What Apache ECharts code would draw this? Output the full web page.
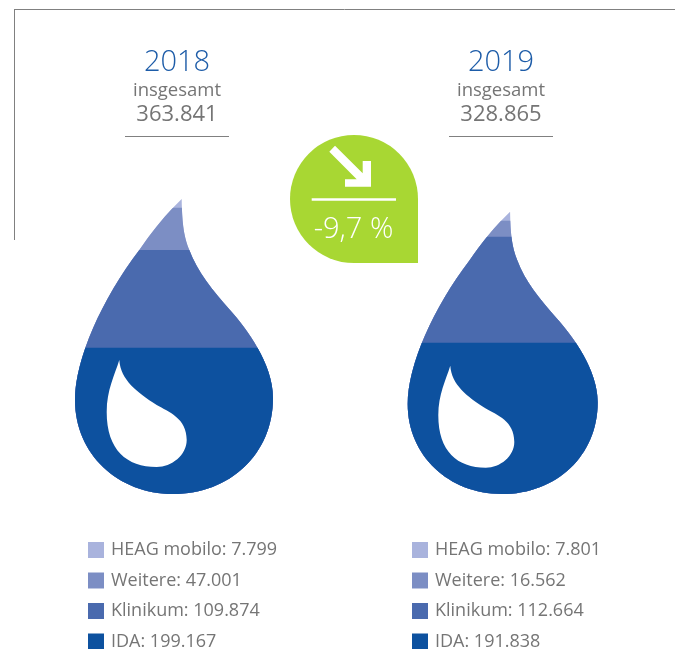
<!DOCTYPE html>
<html>
<head>
<meta charset="utf-8">
<style>html,body{margin:0;padding:0;background:#fff}#c{width:678px;height:649px}</style>
<script src="https://cdn.jsdelivr.net/npm/echarts@6/dist/echarts.min.js"></script>
</head>
<body>
<div id="c"></div>
<script>
// Data
var years = ['2018', '2019'];
var totalLabels = ['363.841', '328.865'];
var changeLabel = '-9,7 %';
var segmentNames = ['HEAG mobilo', 'Weitere', 'Klinikum', 'IDA'];
var labels2018 = ['7.799', '47.001', '109.874', '199.167'];
var labels2019 = ['7.801', '16.562', '112.664', '191.838'];
// Fill level of each band's upper edge in the drop (percent of the taller drop's height)
var levels2018 = [100, 97.05, 82.7, 49.6];
var levels2019 = [95.7, 92.6, 87.2, 51.3];
var colors = ['#A9B3DD', '#7C8EC4', '#4A6AAE', '#0D519F'];
var innerLevels = [27.3, 26.2];

var GREY = '#757575', BLUE = '#1D5CA8', FONT = '"Open Sans"';
var dropPath = 'path://M106.7,0C107,25 109,38 114.3,51C122,72 138,92 155,111C172,130 198,165 198,199C198,255 155,295 98,295C43,295 0,255 0,201C0,160 27,100 64.3,51C78,31 92,14 106.7,0Z';
var innerPath = 'path://M12.6,0C14,20 30,32 50,45C62,52 80,58 80,80C80,95 65,107 50,107C20,107 0,90 0,52C0,30 8,15 12.6,0Z';
var dropWidths = [198, 190];

function bandSeries(levels, names, idx) {
  return levels.map(function (lv, i) {
    var data = [null, null];
    data[idx] = {
      value: lv,
      symbolBoundingData: levels[0],
      symbolSize: [dropWidths[idx], '100%']
    };
    return {
      type: 'pictorialBar',
      name: names[i],
      data: data,
      symbol: dropPath,
      symbolClip: true,
      symbolPosition: 'start',
      barWidth: 198,
      barGap: '-100%',
      itemStyle: { color: colors[i] },
      silent: true,
      z: 2 + i
    };
  });
}
function makeNames(labels) {
  return segmentNames.map(function (n, i) { return n + ': ' + labels[i]; });
}
var names2018 = makeNames(labels2018), names2019 = makeNames(labels2019);

function legend(names, left) {
  return {
    data: names,
    orient: 'vertical',
    left: left,
    top: 541,
    padding: 0,
    height: 140,
    icon: 'rect',
    itemWidth: 16,
    itemHeight: 16,
    itemGap: 12.5,
    selectedMode: false,
    textStyle: { color: GREY, fontSize: 18, fontFamily: FONT, padding: [0, 0, 0, 2] }
  };
}
function text(str, x, y, size, color, weight) {
  return { type: 'text', x: x, y: y, silent: true, style: {
    text: str, fill: color, font: (weight || 400) + ' ' + size + 'px ' + FONT,
    textAlign: 'center', textVerticalAlign: 'middle' } };
}
function line(x1, y1, x2, y2, color, w) {
  return { type: 'line', silent: true,
    shape: { x1: x1, y1: y1, x2: x2, y2: y2 },
    style: { stroke: color, lineWidth: w } };
}
var GREEN = '#A8D733';
var graphics = [
  line(14.5, 10, 14.5, 240, '#808080', 1),
  line(14, 9.5, 675, 9.5, '#808080', 1),
  text(years[0], 177, 62.5, 29, BLUE, 300),
  text('insgesamt', 177, 90.5, 18.5, GREY),
  text(totalLabels[0], 177, 114.5, 22, GREY),
  line(125, 136.5, 229, 136.5, '#808080', 1),
  text(years[1], 501, 62.5, 29, BLUE, 300),
  text('insgesamt', 501, 90.5, 18.5, GREY),
  text(totalLabels[1], 501, 114.5, 22, GREY),
  line(449, 136.5, 553, 136.5, '#808080', 1),
  { type: 'circle', silent: true, shape: { cx: 354, cy: 199, r: 64 }, style: { fill: GREEN } },
  { type: 'rect', silent: true, shape: { x: 354, y: 199, width: 64, height: 64 }, style: { fill: GREEN } },
  { type: 'polygon', silent: true, shape: { points: [[335, 145.7], [362.7, 173.3], [362.7, 161], [371, 161], [371, 186.7], [345, 186.7], [345, 179.3], [356.7, 179.3], [329.3, 151.7]] }, style: { fill: '#fff' } },
  line(311.7, 199.5, 396, 199.5, '#fff', 2.5),
  text(changeLabel, 353.5, 230, 29, '#fff', 300)
];

var chart = echarts.init(document.getElementById('c'), null, { renderer: 'canvas' });
chart.setOption({
  animation: false,
  backgroundColor: '#fff',
  grid: { left: 9.65, width: 657.4, top: 199, height: 295 },
  xAxis: { type: 'category', data: years, show: false },
  yAxis: { type: 'value', min: 0, max: 100, show: false },
  tooltip: { show: false },
  legend: [legend(names2018, 88), legend(names2019, 412)],
  series: bandSeries(levels2018, names2018, 0)
    .concat(bandSeries(levels2019, names2019, 1))
    .concat([{
      type: 'scatter',
      silent: true,
      z: 10,
      symbol: innerPath,
      itemStyle: { color: '#fff', opacity: 1 },
      data: [
        { value: [0, innerLevels[0]], symbolSize: [80, 107], symbolOffset: [-27.3, 0] },
        { value: [1, innerLevels[1]], symbolSize: [76, 102], symbolOffset: [-26.4, 0] }
      ]
    }]),
  graphic: { elements: graphics }
});
</script>
</body>
</html>
